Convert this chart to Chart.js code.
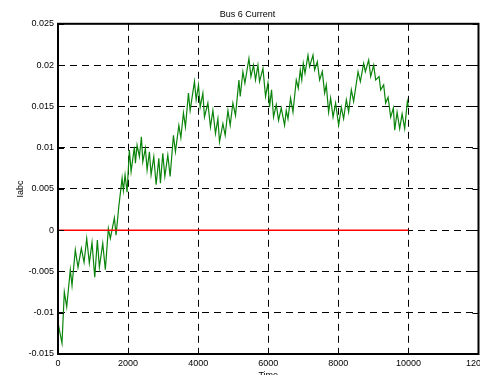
<!DOCTYPE html>
<html>
<head>
<meta charset="utf-8">
<script src="https://cdn.jsdelivr.net/npm/chart.js@4"></script>
<style>
  html, body { margin: 0; padding: 0; background: #fff; overflow: hidden; }
  #wrap { width: 495px; height: 381px; }
</style>
</head>
<body>
<div id="wrap"><canvas id="c" width="495" height="381"></canvas></div>
<script>
// Bus 6 Current
const time = [0,114,180,249,351,400,494,571,666,743,820,894,971,1049,1123,1180,1277,1351,1437,1494,
  1609,1657,1734,1829,1866,1914,1971,2037,2086,2180,2209,2257,2323,2380,2420,2494,2543,2609,2657,2734,
  2800,2877,2923,2991,3049,3134,3200,3294,3351,3449,3506,3580,3637,3723,3771,3894,3943,4009,4057,4134,
  4180,4277,4351,4420,4494,4563,4609,4706,4771,4849,4914,4991,5066,5163,5200,5277,5334,5449,5506,5580,
  5637,5706,5751,5849,5923,5991,6037,6094,6151,6229,6294,6371,6466,6514,6563,6637,6706,6800,6857,6914,
  6957,7000,7049,7134,7180,7277,7323,7400,7466,7543,7609,7657,7723,7780,7849,7923,8009,8086,8151,8229,
  8294,8371,8437,8563,8629,8723,8771,8866,8923,9009,9066,9163,9209,9294,9351,9420,9494,9571,9609,9677,
  9751,9820,9894,9970,10000];
const iabc = [-0.0112,-0.0137,-0.0075,-0.0093,-0.0048,-0.0067,-0.0024,-0.0045,-0.0022,-0.0039,-0.0010,-0.0040,-0.0015,-0.0057,-0.0012,-0.0045,-0.0016,-0.0048,0.0002,-0.0010,
  0.0015,-0.0006,0.0028,0.0063,0.0048,0.0067,0.0046,0.0097,0.0071,0.0101,0.0081,0.0103,0.0089,0.0113,0.0083,0.0099,0.0073,0.0095,0.0067,0.0089,
  0.0055,0.0087,0.0057,0.0093,0.0065,0.0091,0.0065,0.0115,0.0095,0.0127,0.0112,0.0142,0.0125,0.0166,0.0145,0.0180,0.0158,0.0176,0.0149,0.0166,
  0.0137,0.0154,0.0125,0.0145,0.0117,0.0135,0.0107,0.0129,0.0115,0.0145,0.0127,0.0154,0.0139,0.0182,0.0162,0.0192,0.0178,0.0208,0.0186,0.0200,
  0.0182,0.0200,0.0180,0.0196,0.0162,0.0178,0.0149,0.0170,0.0137,0.0152,0.0133,0.0148,0.0127,0.0145,0.0135,0.0160,0.0143,0.0182,0.0172,0.0194,
  0.0182,0.0202,0.0190,0.0212,0.0198,0.0212,0.0194,0.0204,0.0182,0.0192,0.0166,0.0176,0.0143,0.0160,0.0137,0.0154,0.0127,0.0149,0.0135,0.0158,
  0.0143,0.0170,0.0156,0.0192,0.0180,0.0202,0.0192,0.0206,0.0186,0.0200,0.0182,0.0186,0.0170,0.0176,0.0154,0.0161,0.0137,0.0148,0.0121,0.0143,
  0.0123,0.0141,0.0123,0.0156,0.0150];
// red zero reference
const refTime = [0, 10000];
const refValue = [0, 0];

const xTicks = [0, 2000, 4000, 6000, 8000, 10000, 12000];
const yTicks = [-0.015, -0.01, -0.005, 0, 0.005, 0.01, 0.015, 0.02, 0.025];

const font = { family: 'Liberation Sans, Arial, sans-serif', size: 9 };

// solid box + small inward tick marks, matlab style
const frame = {
  id: 'frame',
  afterDraw(chart) {
    const { ctx, chartArea: a, scales } = chart;
    ctx.save();
    ctx.strokeStyle = '#000';
    ctx.lineWidth = 1;
    ctx.beginPath();
    xTicks.forEach(v => {
      const px = Math.round(scales.x.getPixelForValue(v)) + 0.5;
      ctx.moveTo(px, a.top); ctx.lineTo(px, a.top + 6);
      ctx.moveTo(px, a.bottom); ctx.lineTo(px, a.bottom - 6);
    });
    yTicks.forEach(v => {
      const py = Math.round(scales.y.getPixelForValue(v)) + 0.5;
      ctx.moveTo(a.left, py); ctx.lineTo(a.left + 6, py);
      ctx.moveTo(a.right, py); ctx.lineTo(a.right - 6, py);
    });
    ctx.stroke();
    ctx.lineWidth = 2;
    ctx.strokeRect(a.left, a.top, a.right - a.left, a.bottom - a.top);
    ctx.restore();
  }
};

new Chart(document.getElementById('c'), {
  type: 'line',
  data: {
    datasets: [
      {
        label: 'ref',
        data: refTime.map((t, i) => ({ x: t, y: refValue[i] })),
        borderColor: '#ff0000',
        borderWidth: 1.5,
        pointRadius: 0
      },
      {
        label: 'Iabc',
        data: time.map((t, i) => ({ x: t, y: iabc[i] })),
        borderColor: '#0b840b',
        borderWidth: 1.2,
        pointRadius: 0,
        tension: 0
      }
    ]
  },
  plugins: [frame],
  options: {
    responsive: false,
    animation: false,
    devicePixelRatio: 1,
    layout: { padding: 0 },
    plugins: {
      legend: { display: false },
      tooltip: { enabled: false },
      title: {
        display: true,
        text: 'Bus 6 Current',
        color: '#000',
        font: { ...font, weight: 'normal' },
        padding: { top: 9, bottom: 4 }
      }
    },
    scales: {
      x: {
        type: 'linear',
        min: 0, max: 12000,
        afterBuildTicks: s => { s.ticks = xTicks.map(v => ({ value: v })); },
        afterFit: s => { s.height = 27; },
        ticks: { color: '#000', font, padding: 4, maxRotation: 0, autoSkip: false,
                 callback: v => String(v) },
        grid: { color: '#000', lineWidth: 1, drawTicks: false },
        border: { display: false, dash: [7, 5] },
        title: { display: true, text: 'Time', color: '#000', font, padding: 0 }
      },
      y: {
        type: 'linear',
        min: -0.015, max: 0.025,
        afterBuildTicks: s => { s.ticks = yTicks.map(v => ({ value: v })); },
        afterFit: s => { s.width = 58; },
        ticks: { color: '#000', font, padding: 4, autoSkip: false,
                 callback: v => String(+v.toFixed(3)) },
        grid: { color: '#000', lineWidth: 1, drawTicks: false },
        border: { display: false, dash: [7, 5] },
        title: { display: true, text: 'Iabc', color: '#000', font, padding: { top: 15, bottom: 0 } }
      }
    }
  }
});
</script>
</body>
</html>
